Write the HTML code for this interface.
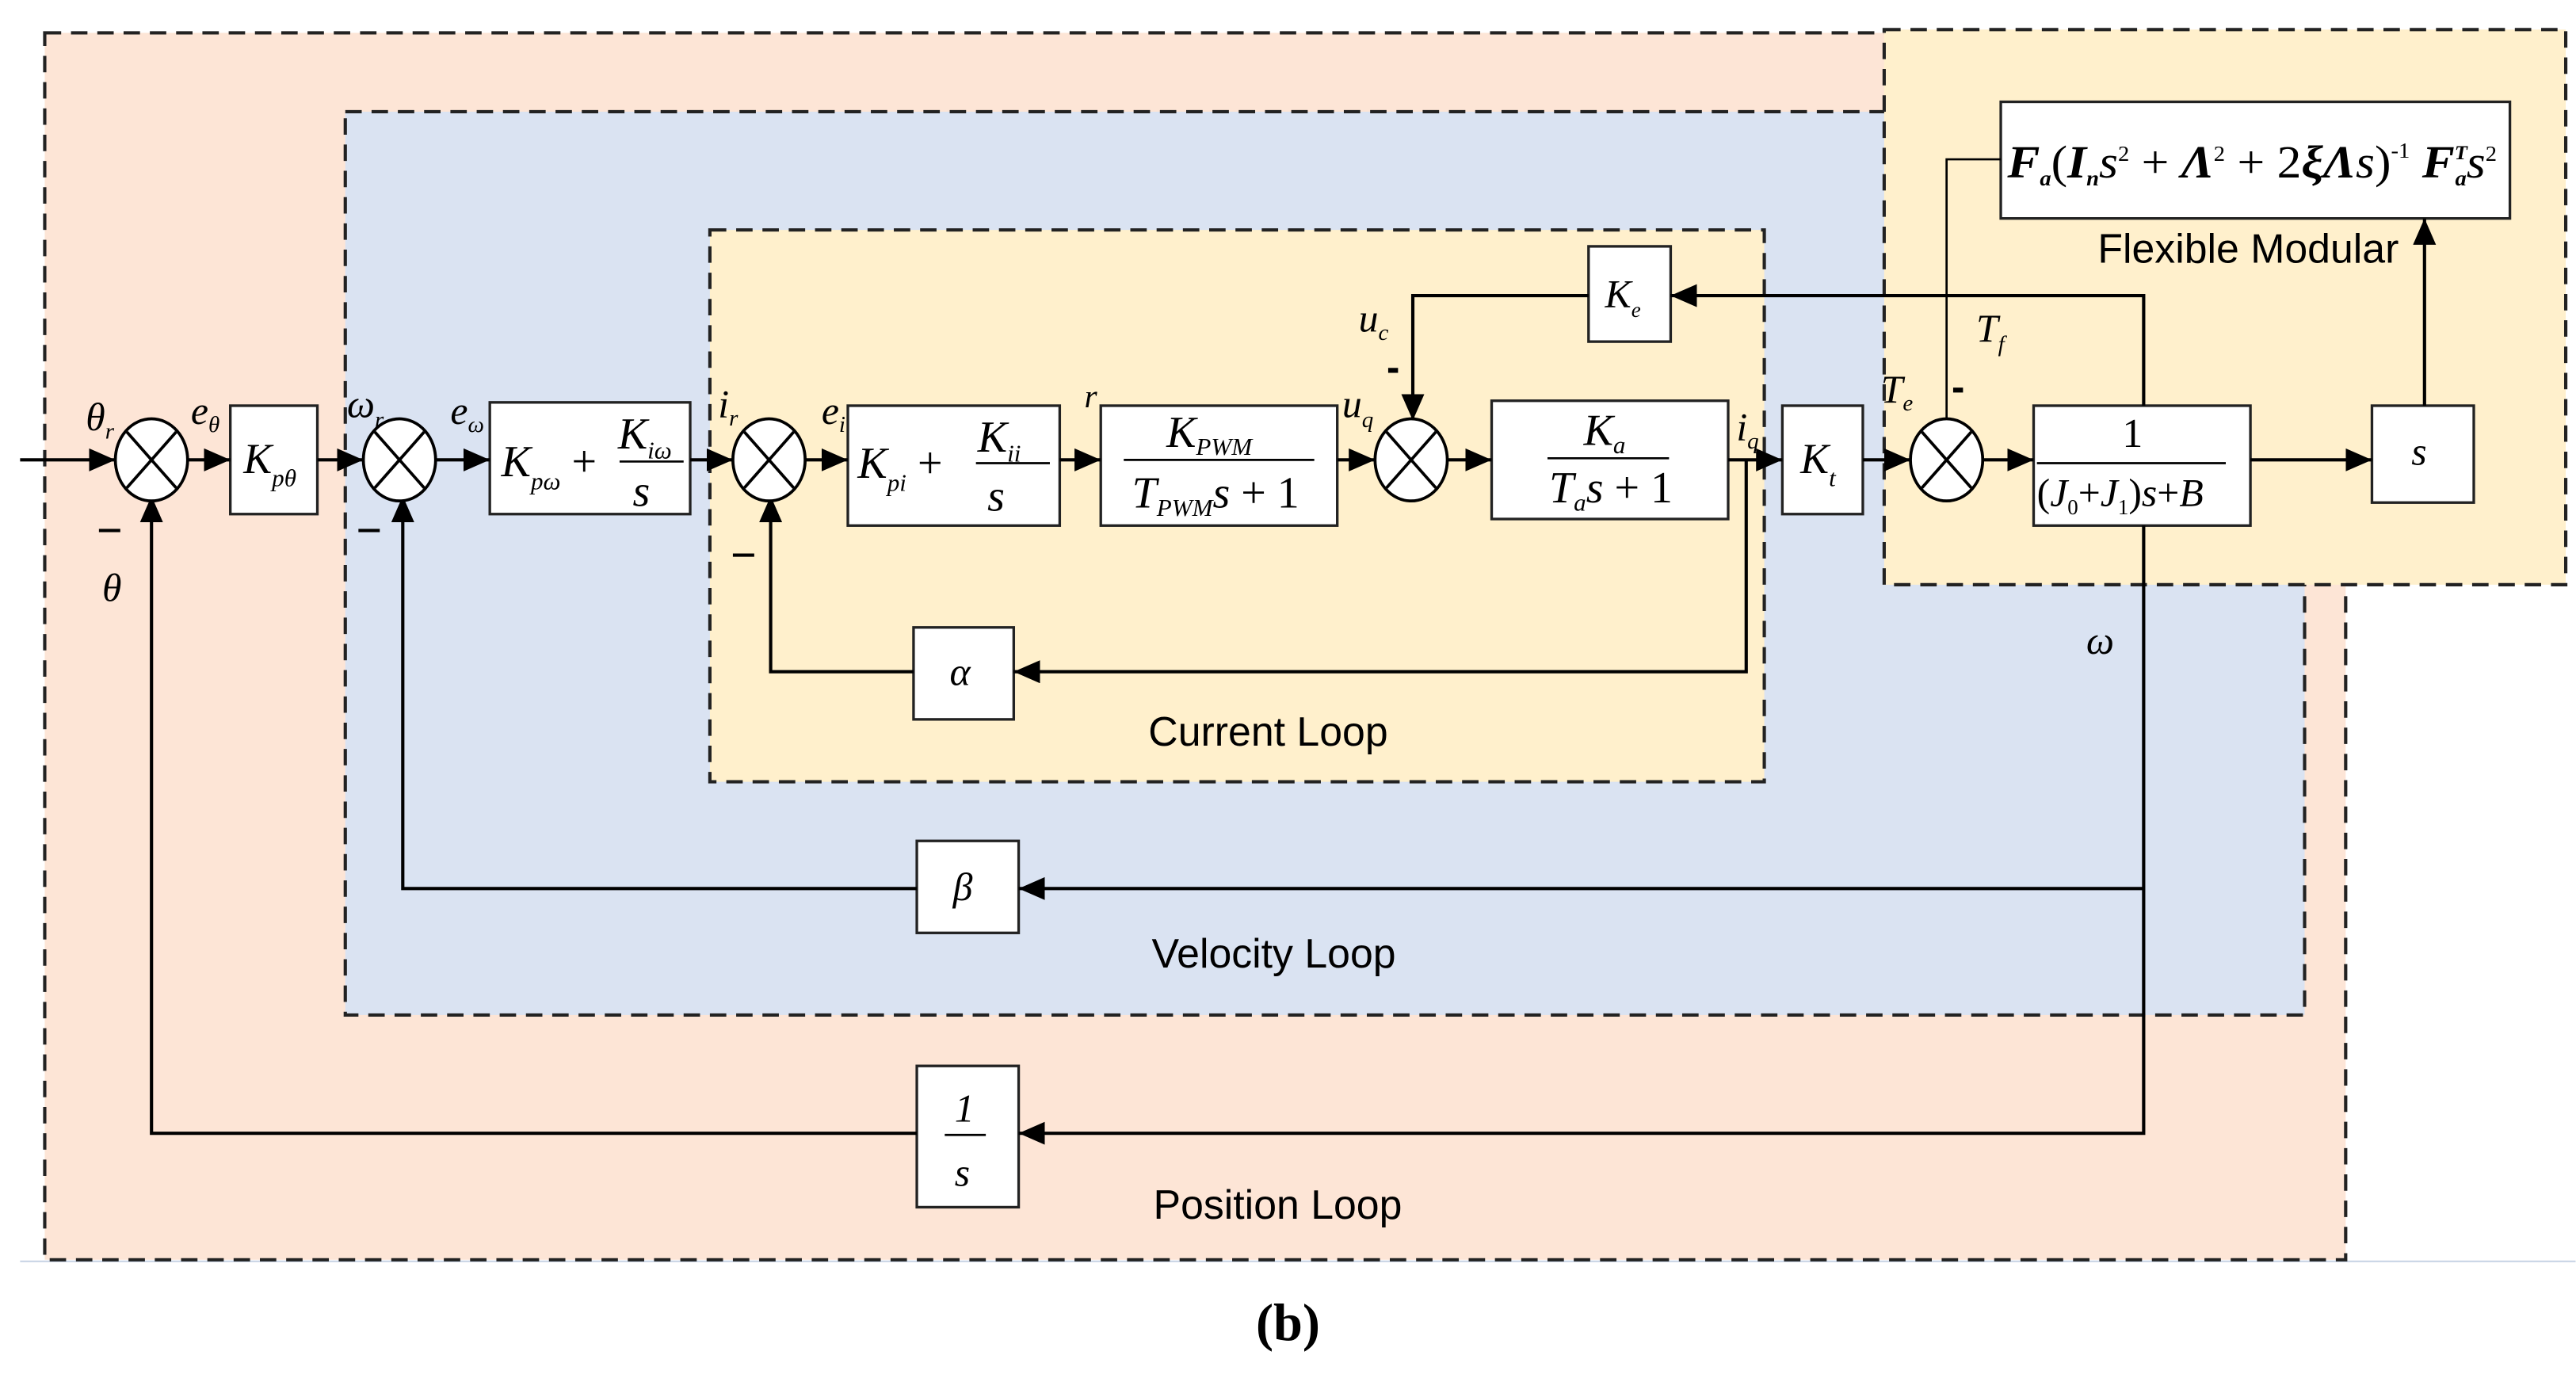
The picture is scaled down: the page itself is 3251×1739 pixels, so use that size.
<!DOCTYPE html>
<html><head><meta charset="utf-8"><style>
html,body{margin:0;padding:0;background:#fff;}
svg{display:block}
.m{font-family:"Liberation Serif",serif;font-style:italic;fill:#000}
.t{font-family:"Liberation Sans",sans-serif;fill:#000;font-size:25px}
</style></head><body>
<svg width="3251" height="1739" viewBox="0 0 1568 839" xmlns="http://www.w3.org/2000/svg">
<defs>
<marker id="b" markerWidth="16" markerHeight="14" refX="16" refY="7" orient="auto" markerUnits="userSpaceOnUse" viewBox="0 0 16 14">
<path d="M0,0 L16,7 L0,14 z" fill="#000"/></marker>
</defs>
<rect width="1568" height="839" fill="#fff"/>
<line x1="12" y1="768" x2="1568" y2="768" stroke="#c9d4e6" stroke-width="1"/>
<g stroke="#222" stroke-width="2" stroke-dasharray="10,6">
<rect x="27" y="20" width="1401" height="747" fill="#fde5d6"/>
<rect x="210" y="68" width="1193" height="550" fill="#dae3f2"/>
<rect x="432" y="140" width="642" height="336" fill="#fff0cc"/>
<rect x="1147" y="18" width="415" height="338" fill="#fff0cc"/>
</g>
<g fill="#fff" stroke="#222" stroke-width="1.6">
<rect x="140" y="247" width="53" height="66"/>
<rect x="298" y="245" width="122" height="68"/>
<rect x="516" y="247" width="129" height="73"/>
<rect x="670" y="247" width="144" height="73"/>
<rect x="908" y="244" width="144" height="72"/>
<rect x="1085" y="247" width="49" height="66"/>
<rect x="1238" y="247" width="132" height="73"/>
<rect x="1444" y="247" width="62" height="59"/>
<rect x="1218" y="62" width="310" height="71"/>
<rect x="967" y="150" width="50" height="58"/>
<rect x="556" y="382" width="61" height="56"/>
<rect x="558" y="512" width="62" height="56"/>
<rect x="558" y="649" width="62" height="86"/>
</g>
<g stroke="#000" stroke-width="2" fill="none">
<line x1="12" y1="280" x2="70" y2="280" marker-end="url(#b)"/>
<line x1="114" y1="280" x2="140" y2="280" marker-end="url(#b)"/>
<line x1="193" y1="280" x2="221" y2="280" marker-end="url(#b)"/>
<line x1="265" y1="280" x2="298" y2="280" marker-end="url(#b)"/>
<line x1="420" y1="280" x2="446" y2="280" marker-end="url(#b)"/>
<line x1="490" y1="280" x2="516" y2="280" marker-end="url(#b)"/>
<line x1="645" y1="280" x2="670" y2="280" marker-end="url(#b)"/>
<line x1="814" y1="280" x2="837" y2="280" marker-end="url(#b)"/>
<line x1="881" y1="280" x2="908" y2="280" marker-end="url(#b)"/>
<line x1="1052" y1="280" x2="1085" y2="280" marker-end="url(#b)"/>
<line x1="1134" y1="280" x2="1163" y2="280" marker-end="url(#b)"/>
<line x1="1207" y1="280" x2="1238" y2="280" marker-end="url(#b)"/>
<line x1="1370" y1="280" x2="1444" y2="280" marker-end="url(#b)"/>
<line x1="1476" y1="247" x2="1476" y2="133" marker-end="url(#b)"/>
<polyline points="1305,320 1305,690 620,690" marker-end="url(#b)"/>
<line x1="1305" y1="541" x2="620" y2="541" marker-end="url(#b)"/>
<polyline points="558,690 92,690 92,302" marker-end="url(#b)"/>
<polyline points="558,541 245,541 245,302" marker-end="url(#b)"/>
<polyline points="1305,247 1305,180 1017,180" marker-end="url(#b)"/>
<polyline points="967,180 860,180 860,256" marker-end="url(#b)"/>
<polyline points="1063,280 1063,409 617,409" marker-end="url(#b)"/>
<polyline points="556,409 469,409 469,302" marker-end="url(#b)"/>
<polyline points="1218,97 1185,97 1185,256" stroke-width="1.3"/>
</g>
<g stroke="#000" stroke-width="1.8" fill="#fff">
<g id="s"><ellipse cx="92" cy="280" rx="22" ry="25"/><line x1="77" y1="263" x2="107" y2="297"/><line x1="107" y1="263" x2="77" y2="297"/></g>
<use href="#s" x="151"/><use href="#s" x="376"/><use href="#s" x="767"/><use href="#s" x="1093"/>
</g>
<g class="m" font-size="24">
<text x="52" y="262">θ<tspan font-size="14" dy="5">r</tspan></text>
<text x="116" y="258">e<tspan font-size="14" dy="5">θ</tspan></text>
<text x="211" y="254">ω<tspan font-size="14" dy="6">r</tspan></text>
<text x="274" y="258">e<tspan font-size="14" dy="5">ω</tspan></text>
<text x="437" y="254">i<tspan font-size="14" dy="5">r</tspan></text>
<text x="500" y="258">e<tspan font-size="14" dy="5">i</tspan></text>
<text x="660" y="248" font-size="20">r</text>
<text x="817" y="254">u<tspan font-size="14" dy="6">q</tspan></text>
<text x="827" y="202">u<tspan font-size="14" dy="5">c</tspan></text>
<text x="1057" y="268">i<tspan font-size="14" dy="5">q</tspan></text>
<text x="1145" y="245">T<tspan font-size="14" dy="5">e</tspan></text>
<text x="1203" y="208">T<tspan font-size="14" dy="6">f</tspan></text>
<text x="1270" y="398">ω</text>
<text x="62" y="366">θ</text>
<text x="148" y="288" font-size="26">K<tspan font-size="15" dy="8">pθ</tspan></text>
<text x="1096" y="288" font-size="26">K<tspan font-size="15" dy="8">t</tspan></text>
<text x="977" y="187" font-size="24">K<tspan font-size="13" dy="6">e</tspan></text>
<text x="578" y="417" font-size="24">α</text>
<text x="580" y="548" font-size="24">β</text>
<text x="1468" y="283" font-size="24">s</text>
<text x="305" y="290" font-size="27">K<tspan font-size="15" dy="8">pω</tspan><tspan dy="-8" font-style="normal"> +</tspan></text>
<text x="376" y="273" font-size="27">K<tspan font-size="15" dy="6">iω</tspan></text>
<text x="385" y="308" font-size="27">s</text>
<text x="522" y="291" font-size="27">K<tspan font-size="15" dy="8">pi</tspan><tspan dy="-8" font-style="normal"> +</tspan></text>
<text x="595" y="275" font-size="27">K<tspan font-size="15" dy="6">ii</tspan></text>
<text x="601" y="311" font-size="27">s</text>
<text x="710" y="272" font-size="27">K<tspan font-size="15" dy="5">PWM</tspan></text>
<text x="689" y="309" font-size="27">T<tspan font-size="15" dy="5">PWM</tspan><tspan dy="-5">s</tspan><tspan font-style="normal"> + 1</tspan></text>
<text x="964" y="271" font-size="27">K<tspan font-size="15" dy="5">a</tspan></text>
<text x="943" y="306" font-size="27">T<tspan font-size="15" dy="5">a</tspan><tspan dy="-5">s</tspan><tspan font-style="normal"> + 1</tspan></text>
<text x="1292" y="272" font-size="25" font-style="normal">1</text>
<text x="1240" y="308" font-size="24"><tspan font-style="normal">(</tspan>J<tspan font-size="13" dy="5" font-style="normal">0</tspan><tspan dy="-5" font-style="normal">+</tspan>J<tspan font-size="13" dy="5" font-style="normal">1</tspan><tspan dy="-5" font-style="normal">)</tspan>s<tspan font-style="normal">+</tspan>B</text>
<text x="1222" y="108" font-size="28" font-weight="bold" textLength="298" lengthAdjust="spacingAndGlyphs">F<tspan font-size="13" dy="5">a</tspan><tspan dy="-5" font-style="normal" font-weight="normal">(</tspan>I<tspan font-size="13" dy="5">n</tspan><tspan dy="-5" font-weight="normal">s</tspan><tspan font-size="13" dy="-10" font-style="normal" font-weight="normal">2</tspan><tspan dy="10" font-style="normal" font-weight="normal"> + </tspan>Λ<tspan font-size="13" dy="-10" font-style="normal" font-weight="normal">2</tspan><tspan dy="10" font-style="normal" font-weight="normal"> + 2</tspan>ξΛ<tspan font-weight="normal">s</tspan><tspan font-style="normal" font-weight="normal">)</tspan><tspan font-size="13" dy="-12" font-style="normal" font-weight="normal">-1</tspan><tspan dy="12"> F</tspan><tspan font-size="12" dy="-11">T</tspan><tspan font-size="13" dy="16" dx="-7">a</tspan><tspan dy="-5" font-weight="normal">s</tspan><tspan font-size="13" dy="-10" font-style="normal" font-weight="normal">2</tspan></text>
</g>
<g stroke="#000" stroke-width="1.3">
<line x1="377" y1="281" x2="416" y2="281"/><line x1="594" y1="282" x2="639" y2="282"/>
<line x1="684" y1="280" x2="800" y2="280"/><line x1="942" y1="279" x2="1016" y2="279"/>
<line x1="1240" y1="282" x2="1355" y2="282"/>
<line x1="575" y1="691" x2="600" y2="691"/>
</g>
<text class="m" x="581" y="683" font-size="24" font-style="normal">1</text>
<text class="m" x="581" y="722" font-size="24">s</text>
<g fill="#000">
<rect x="60" y="322" width="13" height="2"/><rect x="218" y="322" width="13" height="2"/>
<rect x="446" y="337" width="13" height="2"/><rect x="845" y="224" width="6" height="3"/>
<rect x="1189" y="236" width="6" height="3"/>
</g>
<text class="t" x="699" y="454">Current Loop</text>
<text class="t" x="701" y="589">Velocity Loop</text>
<text class="t" x="702" y="742">Position Loop</text>
<text class="t" x="1277" y="160">Flexible Modular</text>
<text x="784" y="816" text-anchor="middle" font-family="Liberation Serif,serif" font-size="32" font-weight="bold">(b)</text>
</svg>
</body></html>
